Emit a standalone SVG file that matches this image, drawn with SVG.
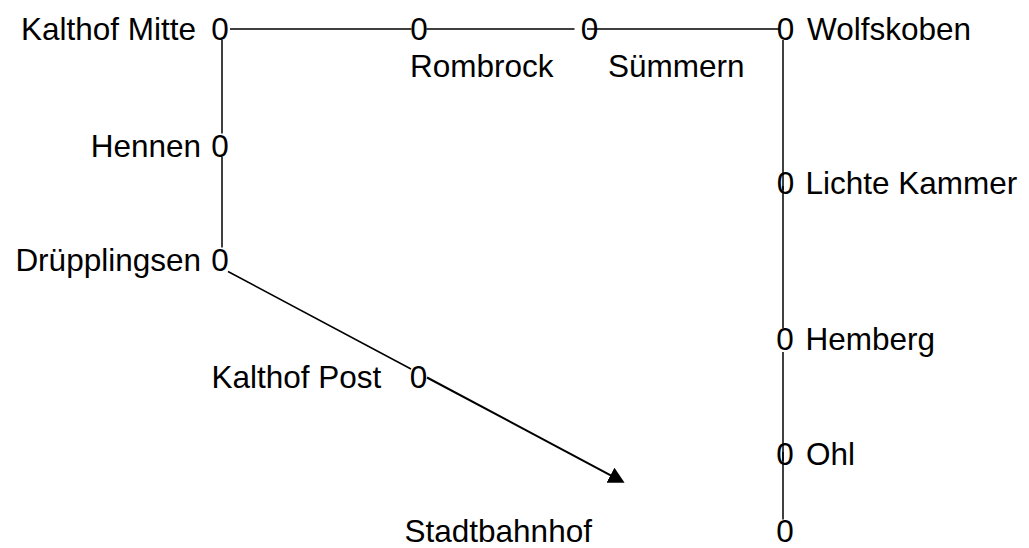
<svg xmlns="http://www.w3.org/2000/svg" width="1029" height="548" viewBox="0 0 1029 548">
  <style>
    text { font-family: "Liberation Sans", Arial, sans-serif; font-size: 31.5px; fill: #000; }
    .dot { text-anchor: middle; }
    .lr { text-anchor: end; }
    .edge { stroke: #000; stroke-width: 1.5; fill: none; }
    .arrow { stroke: #000; stroke-width: 2; fill: none; }
  </style>
  <defs>
    <marker id="ah" viewBox="0 0 16 17" refX="12.5" refY="8.5" markerWidth="16" markerHeight="17" markerUnits="userSpaceOnUse" orient="auto">
      <path d="M0,0 L16,8.5 L0,17 z" fill="#000"/>
    </marker>
  </defs>
  <rect width="1029" height="548" fill="#fff"/>
  <g id="connectors">
    <line class="edge" x1="230" y1="29" x2="411.5" y2="29"/>
    <line class="edge" x1="426.5" y1="29" x2="574.5" y2="29"/>
    <line class="edge" x1="587" y1="29" x2="779" y2="29"/>
    <line class="edge" x1="222" y1="40" x2="222" y2="133.5"/>
    <line class="edge" x1="222" y1="157" x2="222" y2="247.5"/>
    <line class="edge" x1="228" y1="271.5" x2="411" y2="369"/>
    <line class="arrow" x1="427" y1="377.5" x2="621.5" y2="481.1" marker-end="url(#ah)"/>
    <line class="edge" x1="783" y1="40" x2="783" y2="190"/>
    <line class="edge" x1="783" y1="186" x2="783" y2="328.5"/>
    <line class="edge" x1="783" y1="352" x2="783" y2="461"/>
    <line class="edge" x1="783" y1="452" x2="783" y2="519.5"/>
  </g>
  <g id="kalthof-mitte"><text class="lr" x="196" y="40">Kalthof Mitte</text><text class="dot" x="220" y="40">0</text></g>
  <g id="rombrock"><text class="dot" x="419" y="40">0</text><text x="410" y="77">Rombrock</text></g>
  <g id="suemmern"><text class="dot" x="589.5" y="40">0</text><text x="608" y="77">Sümmern</text></g>
  <g id="wolfskoben"><text class="dot" x="785.5" y="40">0</text><text x="807" y="40">Wolfskoben</text></g>
  <g id="hennen"><text class="lr" x="201" y="156.5">Hennen</text><text class="dot" x="220" y="156.5">0</text></g>
  <g id="druepplingsen"><text class="lr" x="201" y="271">Drüpplingsen</text><text class="dot" x="220" y="271">0</text></g>
  <g id="kalthof-post"><text x="211.5" y="388">Kalthof Post</text><text class="dot" x="418.5" y="388">0</text></g>
  <g id="stadtbahnhof"><text x="404.5" y="541.5">Stadtbahnhof</text></g>
  <g id="lichte-kammer"><text class="dot" x="785.5" y="194">0</text><text x="805.5" y="194">Lichte Kammer</text></g>
  <g id="hemberg"><text class="dot" x="785" y="350">0</text><text x="805.5" y="350">Hemberg</text></g>
  <g id="ohl"><text class="dot" x="785" y="465">0</text><text x="806" y="465">Ohl</text></g>
  <g id="end-node"><text class="dot" x="785" y="541.5">0</text></g>
</svg>
